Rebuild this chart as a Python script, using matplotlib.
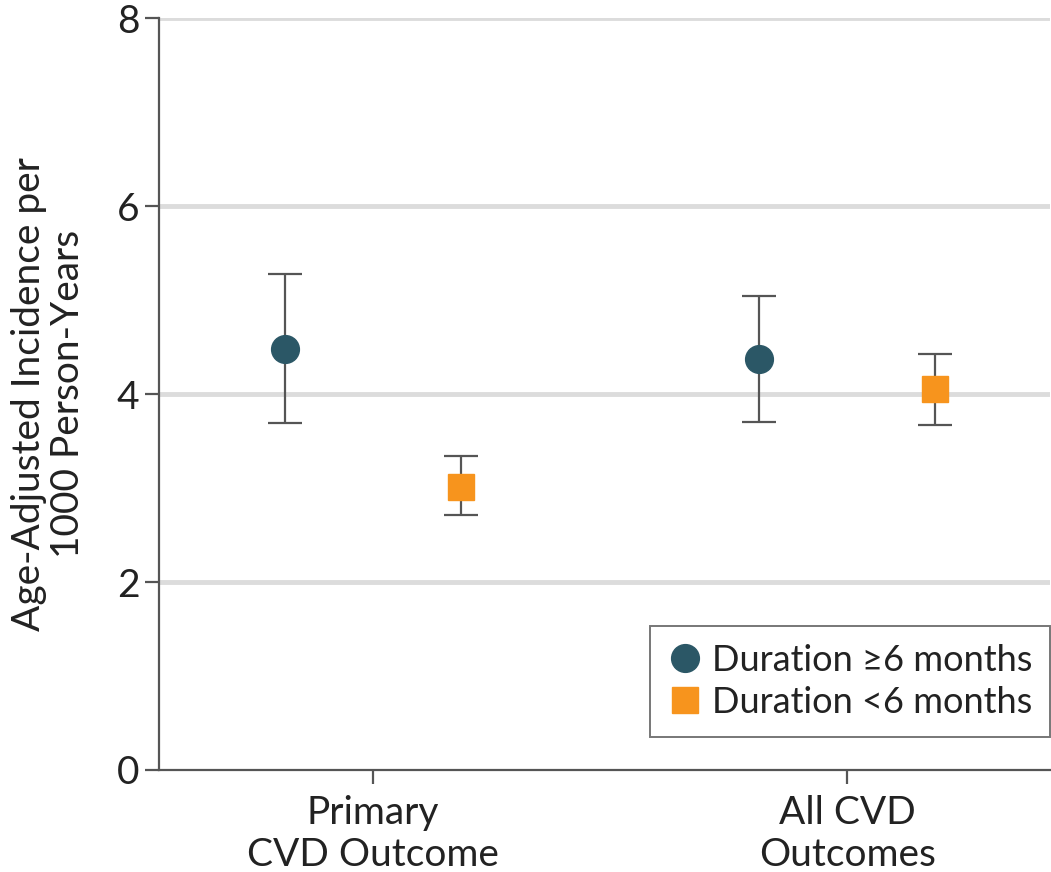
import numpy as np
import matplotlib
matplotlib.use("Agg")
import matplotlib.pyplot as plt

plt.rcParams['font.family'] = ['Lato', 'DejaVu Sans']

categories = ['Primary\nCVD Outcome', 'All CVD\nOutcomes']
long_mean = [4.48, 4.37]
long_low = [3.69, 3.70]
long_high = [5.28, 5.04]
short_mean = [3.01, 4.05]
short_low = [2.71, 3.67]
short_high = [3.34, 4.43]

dark = '#2b5766'
orange = '#f7941d'
axis_col = '#555555'
text_col = '#222222'

fig = plt.figure(figsize=(10.51, 8.72), dpi=100)
ax = fig.add_axes([0.1513, 0.117, 0.848, 0.862])

x = np.arange(len(categories))
off = 0.186

lm = np.array(long_mean)
sm = np.array(short_mean)
ax.errorbar(x - off, lm, yerr=[lm - np.array(long_low), np.array(long_high) - lm],
            fmt='o', color=dark, ms=20, ecolor=axis_col, elinewidth=1.6,
            capsize=12, capthick=1.6, zorder=3, label='Duration \u22656 months')
ax.errorbar(x + off, sm, yerr=[sm - np.array(short_low), np.array(short_high) - sm],
            fmt='s', color=orange, ms=19, ecolor=axis_col, elinewidth=1.6,
            capsize=12, capthick=1.6, zorder=3, label='Duration <6 months')

ax.set_xlim(-0.451, 1.428)
ax.set_ylim(0, 8)
ax.set_yticks([0, 2, 4, 6, 8])
ax.set_xticks(x)
ax.set_xticklabels(categories)
for yv in [2, 4, 6, 8]:
    ax.axhline(yv, color='#dcdcdc', lw=3.5, zorder=1)

for s in ['top', 'right']:
    ax.spines[s].set_visible(False)
for s in ['left', 'bottom']:
    ax.spines[s].set_color(axis_col)
    ax.spines[s].set_linewidth(1.6)
ax.tick_params(axis='both', colors=axis_col, width=1.6, length=10, labelsize=28,
               labelcolor=text_col)
ax.tick_params(axis='x', pad=8)
ax.tick_params(axis='y', pad=4)

ax.set_ylabel('Age-Adjusted Incidence per\n1000 Person-Years', fontsize=28,
              color=text_col, labelpad=22, linespacing=1.1)

handles, labels = ax.get_legend_handles_labels()
handles = [h[0] for h in handles]
leg = ax.legend(handles, labels, loc='lower right', bbox_to_anchor=(1.0, 0.044),
                fontsize=26, frameon=True, fancybox=False, handletextpad=0.3,
                handlelength=0.9, borderpad=0.5, labelspacing=0.25,
                borderaxespad=0)
leg.get_frame().set_edgecolor(axis_col)
leg.get_frame().set_linewidth(1.4)
for t in leg.get_texts():
    t.set_color(text_col)

fig.savefig('out.png', dpi=100)
